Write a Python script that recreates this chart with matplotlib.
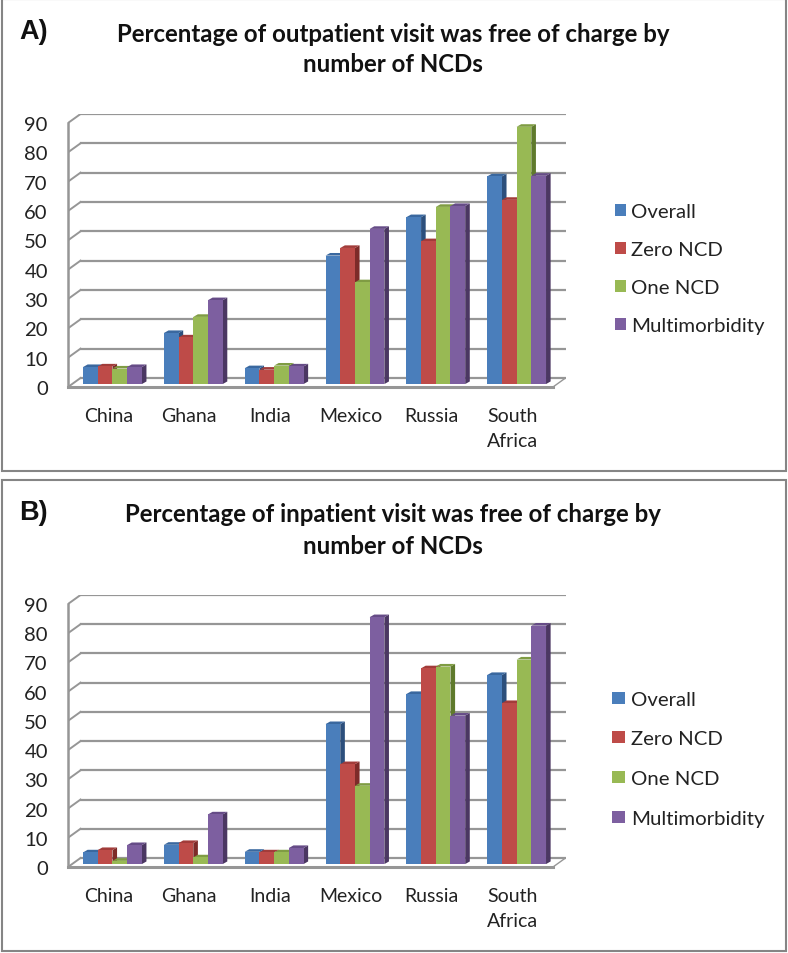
import numpy as np
from matplotlib import pyplot as plt
from matplotlib.patches import Rectangle

countries = ['China', 'Ghana', 'India', 'Mexico', 'Russia', 'South\nAfrica']
series_names = ['Overall', 'Zero NCD', 'One NCD', 'Multimorbidity']

# A) outpatient
out_overall = [5.8, 17.4, 5.4, 43.8, 56.9, 70.8]
out_zero = [6.0, 15.9, 4.9, 46.4, 48.7, 62.8]
out_one = [5.3, 22.9, 6.3, 34.7, 60.4, 87.7]
out_multi = [5.8, 28.6, 6.0, 52.9, 60.7, 71.0]

# B) inpatient
in_overall = [4.0, 6.6, 4.2, 47.9, 58.2, 64.7]
in_zero = [4.8, 7.2, 4.0, 34.2, 67.0, 55.1]
in_one = [1.1, 2.3, 4.0, 26.8, 67.6, 70.0]
in_multi = [6.5, 17.0, 5.5, 84.5, 50.8, 81.6]

front_colors = ['#4A7EBB', '#BE4B48', '#98B954', '#7D5FA0']
side_colors = ['#2C4F7C', '#7D2B29', '#5F7A2C', '#4B3762']
top_colors = ['#3A689F', '#A23C3A', '#7F9C43', '#664C87']

W, H = 788, 954
GRID = '#969696'

plt.rcParams['font.family'] = 'Lato'
fig = plt.figure(figsize=(W / 100, H / 100), dpi=100)


def fx(px):
    return px / W


def fy(py):
    return 1 - py / H


def draw_panel(series, title, letter, frame, y0, y90, legend_x, legend_w, legend_ys, title_ys, letter_y):
    # frame
    fig.add_artist(Rectangle((fx(2), fy(frame[1])), fx(784), fy(frame[0]) - fy(frame[1]),
                             transform=fig.transFigure, fill=False, ec='#858585', lw=1.5))
    fig.text(fx(19), fy(letter_y), letter, family='Liberation Sans', weight='bold', fontsize=19.5,
             va='center', ha='left', color='#111111')
    for line, yy in zip(title, title_ys):
        fig.text(fx(393), fy(yy), line, weight='bold', fontsize=17.3, ha='center', va='center', color='#111111')

    # plot box, the depth of the back wall is in data units
    unit = (y0 - y90) / 90
    cat_w = 485 / 6
    back_dx = 12.5 / cat_w
    back_dy = 9 / unit
    ax = fig.add_axes([fx(68), fy(y0), fx(498), (y0 - y90 + 9) / H])
    ax.set_xlim(-0.5, -0.5 + 498 / cat_w)
    ax.set_ylim(0, 90 + back_dy)
    ax.patch.set_alpha(0)
    for s in ax.spines.values():
        s.set_visible(False)

    # walls
    x_l = -0.5
    x_r = 5.5
    for v in range(0, 100, 10):
        ax.plot([x_l + back_dx, x_r + back_dx], [v + back_dy, v + back_dy], color=GRID, lw=1.6, zorder=1)
        ax.plot([x_l, x_l + back_dx], [v, v + back_dy], color=GRID, lw=1.4, zorder=1)
    ax.plot([x_l, x_l], [0, 90], color=GRID, lw=1.8, zorder=1, clip_on=False)
    ax.plot([x_l, x_r], [0, 0], color=GRID, lw=2.2, zorder=30, clip_on=False)
    ax.plot([x_r, x_r + back_dx], [0, back_dy], color=GRID, lw=1.0, zorder=30)

    # bars with side and top faces
    bar_w = 14.7 / cat_w
    shift = 0.05
    lift = 1.0
    depth_x = 4.6 / cat_w
    depth_y = 2.6 / unit
    pos = np.arange(len(countries))
    for i, vals in enumerate(series):
        vals = np.array(vals)
        left = pos + shift + (i - 2) * bar_w
        z = 5 + i * 2
        for xx, v in zip(left, vals):
            r = xx + bar_w
            top = v + lift
            ax.fill([r, r + depth_x, r + depth_x, r], [lift, lift + depth_y, top + depth_y, top],
                    color=side_colors[i], lw=0, zorder=z)
            ax.fill([xx, xx + depth_x, r + depth_x, r], [top, top + depth_y, top + depth_y, top],
                    color=top_colors[i], lw=0, zorder=z)
        ax.bar(left, vals, bar_w, bottom=lift, align='edge', color=front_colors[i], lw=0, zorder=z + 1)

    ax.set_xticks(pos)
    ax.set_xticklabels(countries, fontsize=14.0, color='#222222', linespacing=1.55, va='top')
    ax.set_yticks(range(0, 100, 10))
    ax.set_yticklabels([str(v) for v in range(0, 100, 10)], fontsize=14.6, color='#222222')
    ax.tick_params(axis='x', length=0, pad=14.5)
    ax.tick_params(axis='y', length=0, pad=14.5)

    # legend, one per row so the uneven rows can be placed
    for i, name in enumerate(series_names):
        fig.add_artist(Rectangle((fx(legend_x), fy(legend_ys[i] + 6)), fx(legend_w), 12 / H,
                                 transform=fig.transFigure, fc=front_colors[i], ec='none'))
        fig.text(fx(631), fy(legend_ys[i] + 1.5), name, fontsize=14.7, va='center', ha='left', color='#222222')


draw_panel([out_overall, out_zero, out_one, out_multi],
           ['Percentage of outpatient visit was free of charge by', 'number of NCDs'],
           'A)', (0, 472), 388, 124, 615, 11, [211, 249, 287, 325], [34, 65], 32)
draw_panel([in_overall, in_zero, in_one, in_multi],
           ['Percentage of inpatient visit was free of charge by', 'number of NCDs'],
           'B)', (481, 952), 868, 605, 612, 13, [699, 738, 778, 818], [515, 546], 513)

fig.savefig('out.png', dpi=100)
